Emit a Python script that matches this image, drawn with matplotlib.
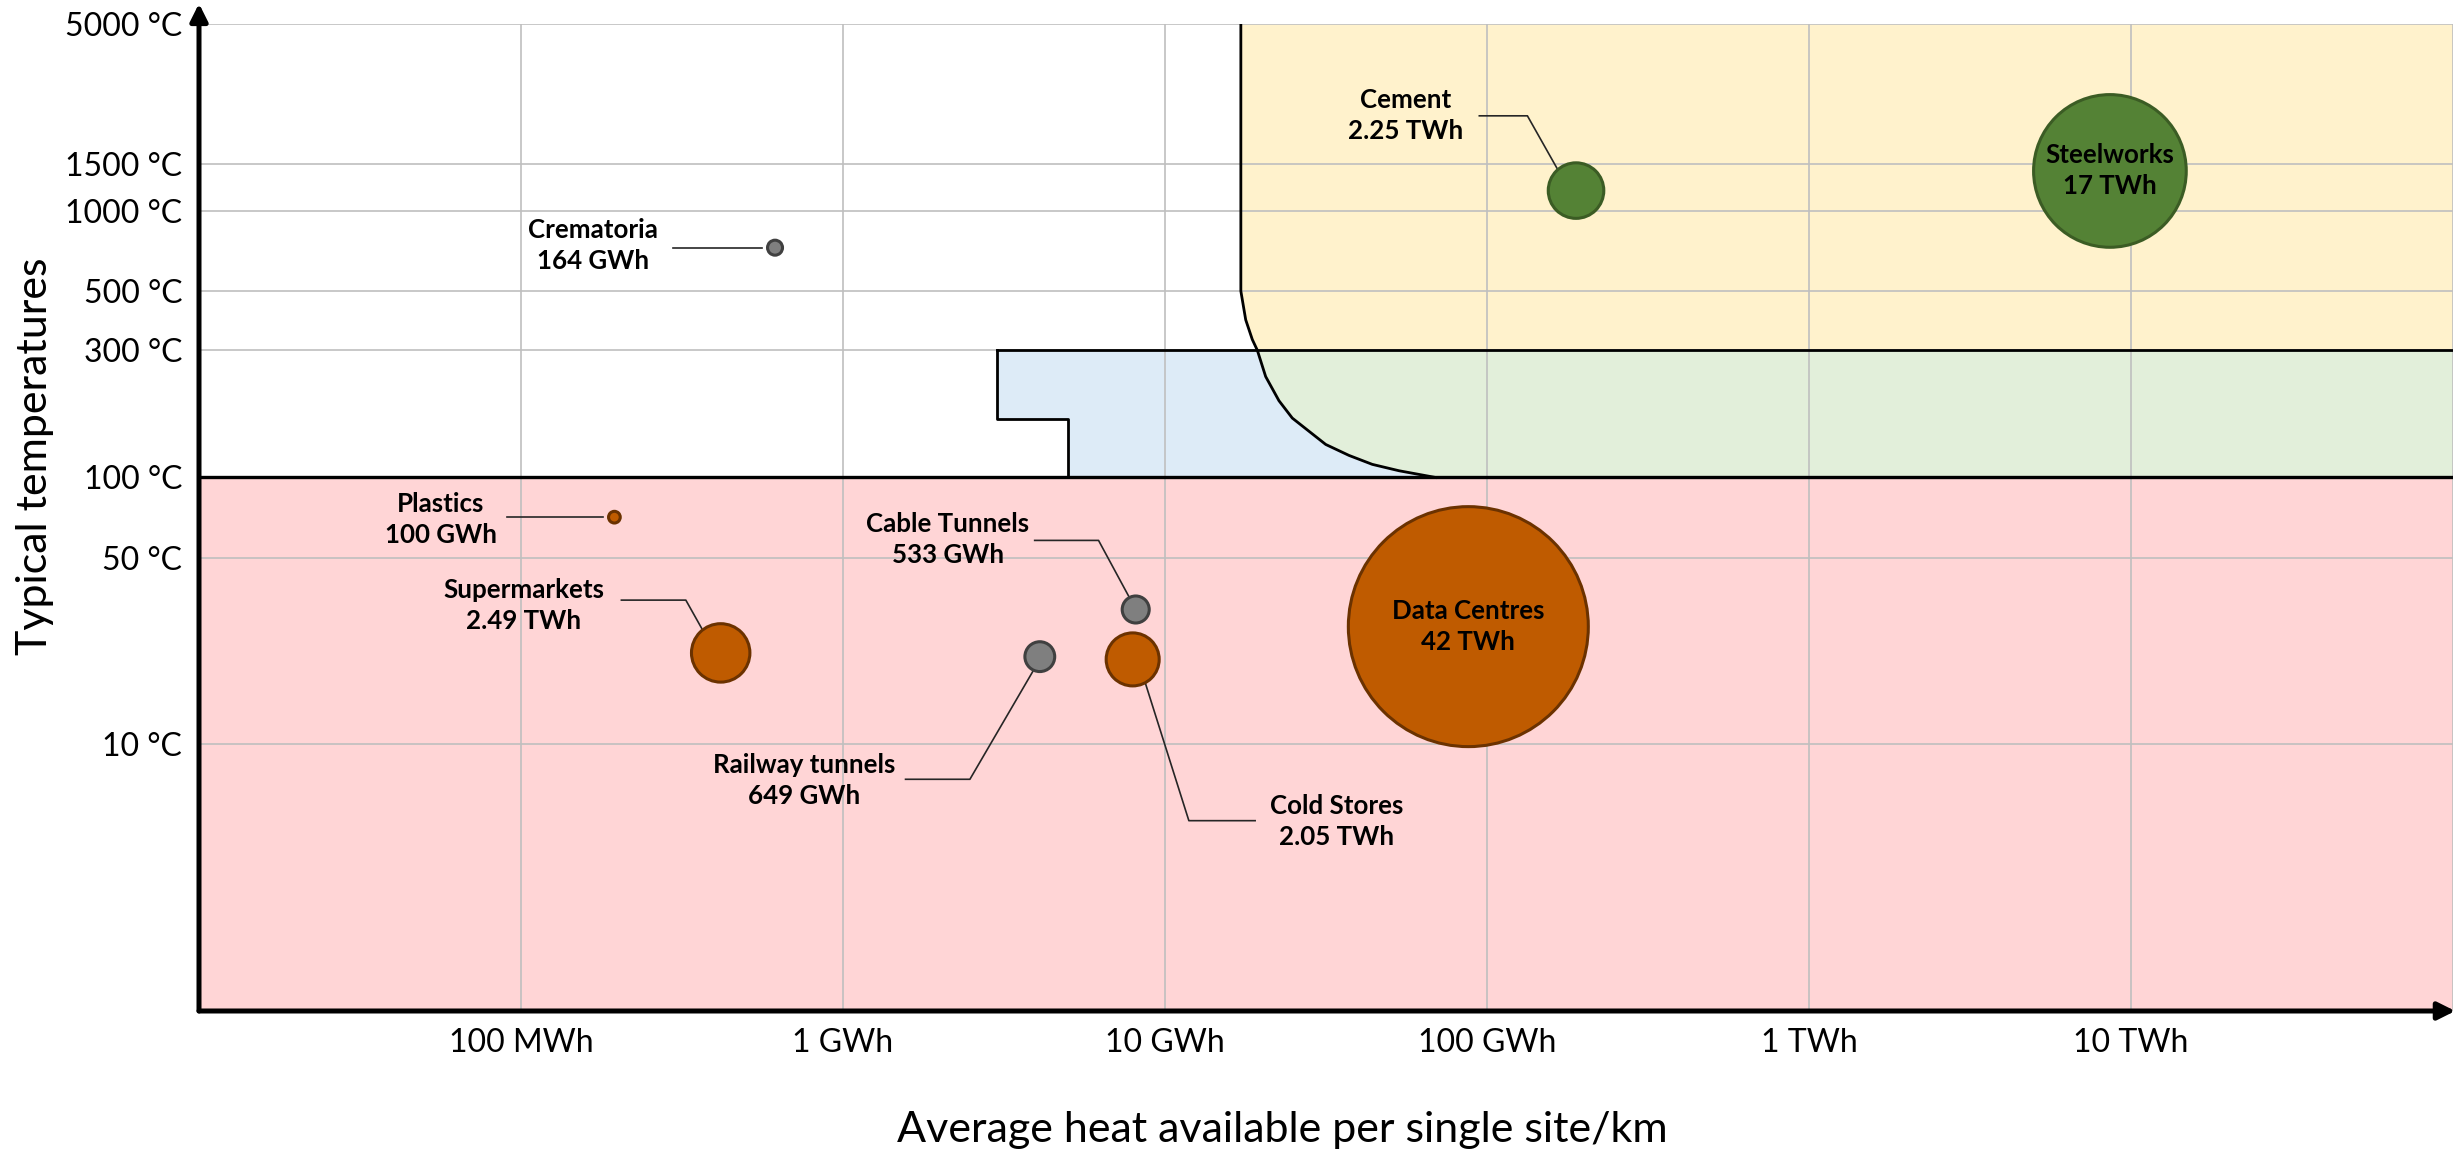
import matplotlib
matplotlib.use("Agg")
import matplotlib.pyplot as plt
from matplotlib.ticker import NullLocator

plt.rcParams['font.family'] = ['Lato', 'DejaVu Sans']

# --- data -------------------------------------------------------------
names = ["Crematoria", "Cement", "Steelworks", "Plastics", "Supermarkets",
         "Cable Tunnels", "Railway tunnels", "Cold Stores", "Data Centres"]
energy_labels = ["164 GWh", "2.25 TWh", "17 TWh", "100 GWh", "2.49 TWh",
                 "533 GWh", "649 GWh", "2.05 TWh", "42 TWh"]
energy_twh = [0.164, 2.25, 17, 0.1, 2.49, 0.533, 0.649, 2.05, 42]
heat_per_site_mwh = [615, 189000, 8.6e6, 195, 417, 8110, 4085, 7936, 87500]
temperature_c = [727, 1190, 1410, 71, 22, 32, 21.3, 20.8, 27.6]
group = ["tunnel", "high", "high", "low", "low", "tunnel", "tunnel", "low", "low"]

# zone boundaries (MWh, degC)
x_min, x_max = 10, 1e8
t_min, t_max = 1, 5000
t_low, t_mid, t_step = 100, 300, 165
blue_left, blue_step = 3000, 5000
yellow_left, t_curve_top = 17200, 500
curve_x = [17200, 17810, 18670, 19350, 20540, 22590, 24850, 28010, 31560,
           37270, 44030, 53300, 69300]
curve_t = [500, 390, 329, 300, 239, 194, 167, 149, 133, 121, 112, 106, 100]

x_ticks = [1e2, 1e3, 1e4, 1e5, 1e6, 1e7, 1e8]
x_ticklabels = ["100 MWh", "1 GWh", "10 GWh", "100 GWh", "1 TWh", "10 TWh", ""]
y_ticks = [10, 50, 100, 300, 500, 1000, 1500, 5000]
y_ticklabels = ["10 °C", "50 °C", "100 °C", "300 °C", "500 °C", "1000 °C",
                "1500 °C", "5000 °C"]

# label placement: text centre and leader path (MWh, degC)
label_layout = {
    "Crematoria": ((167, 743), [(296, 727), (560, 727)]),
    "Plastics": ((56.3, 69.7), [(90.3, 71), (180, 71)]),
    "Supermarkets": ((102, 33.2), [(205, 34.7), (325, 34.7), (364, 27.2)]),
    "Cable Tunnels": ((2119, 58.4), [(3938, 58.1), (6217, 58.1), (7731, 35.7)]),
    "Railway tunnels": ((758, 7.3), [(1564, 7.39), (2478, 7.39), (3908, 18.97)]),
    "Cold Stores": ((34210, 5.12), [(19050, 5.17), (11860, 5.17), (8693, 16.92)]),
    "Cement": ((55840, 2273), [(94660, 2269), (133500, 2269), (165100, 1440)]),
}

fill_color = {"low": "#BF5B00", "high": "#548235", "tunnel": "#7F7F7F"}
edge_color = {"low": "#6B3200", "high": "#3B5C24", "tunnel": "#404040"}

# --- figure -----------------------------------------------------------
fig = plt.figure(figsize=(12.29, 5.76), dpi=200)
ax = fig.add_axes([0.08096, 0.1224, 0.91701, 0.85651])
ax.set_xscale('log')
ax.set_yscale('log')
ax.set_xlim(x_min, x_max)
ax.set_ylim(t_min, t_max)

# zones
ax.fill_between([x_min, x_max], t_min, t_low, color="#FFD5D6", lw=0, zorder=0.2)
upper = [(cx, ct) for cx, ct in zip(curve_x, curve_t) if ct >= t_mid]
lower = [(cx, ct) for cx, ct in zip(curve_x, curve_t) if ct <= t_mid]
yellow = [(yellow_left, t_max)] + upper + [(x_max, t_mid), (x_max, t_max)]
green = lower + [(x_max, t_low), (x_max, t_mid)]
blue = [(blue_left, t_mid)] + lower + [(blue_step, t_low), (blue_step, t_step),
                                        (blue_left, t_step)]
for poly, col in [(yellow, "#FFF2CC"), (green, "#E2EFDA"), (blue, "#DDEBF7")]:
    ax.fill([p[0] for p in poly], [p[1] for p in poly], color=col, lw=0, zorder=0.2)

# zone outlines
ax.plot([yellow_left] + curve_x, [t_max] + curve_t, color="black", lw=1.0, zorder=2)
ax.plot([blue_left, x_max], [t_mid, t_mid], color="black", lw=1.0, zorder=2)
ax.plot([x_min, x_max], [t_low, t_low], color="black", lw=1.2, zorder=2)
ax.plot([blue_left, blue_left, blue_step, blue_step],
        [t_mid, t_step, t_step, t_low], color="black", lw=1.0, zorder=2)

# grid & ticks
ax.set_axisbelow(True)
ax.set_xticks(x_ticks)
ax.set_xticklabels(x_ticklabels)
ax.set_yticks(y_ticks)
ax.set_yticklabels(y_ticklabels)
ax.xaxis.set_minor_locator(NullLocator())
ax.yaxis.set_minor_locator(NullLocator())
ax.grid(True, color="#BFBFBF", lw=0.6)
ax.tick_params(axis='both', length=0, labelsize=11.5)
ax.tick_params(axis='x', pad=6)
ax.tick_params(axis='y', pad=6)
for s in ax.spines.values():
    s.set_visible(False)

# axes with arrows
ax.annotate('', xy=(0, 1.021), xytext=(0, 0), xycoords='axes fraction',
            arrowprops=dict(arrowstyle='-|>', lw=1.8, color='black',
                            mutation_scale=13, shrinkA=0, shrinkB=0),
            annotation_clip=False, zorder=5)
ax.annotate('', xy=(1.001, 0), xytext=(0, 0), xycoords='axes fraction',
            arrowprops=dict(arrowstyle='-|>', lw=1.8, color='black',
                            mutation_scale=13, shrinkA=0, shrinkB=0),
            annotation_clip=False, zorder=5)

# bubbles (area proportional to total heat)
sizes = [e * 177.7 for e in energy_twh]
ax.scatter(heat_per_site_mwh, temperature_c, s=sizes,
           c=[fill_color[g] for g in group],
           edgecolors=[edge_color[g] for g in group],
           linewidths=1.1, zorder=3)

# labels
for name, lab, x, t in zip(names, energy_labels, heat_per_site_mwh, temperature_c):
    txt = f"{name}\n{lab}"
    if name in label_layout:
        (tx, ty), path = label_layout[name]
        ax.text(tx, ty, txt, ha='center', va='center', fontsize=9.3,
                fontweight='bold', linespacing=1.35, zorder=4)
        ax.plot([p[0] for p in path], [p[1] for p in path],
                color="#262626", lw=0.6, zorder=2.5)
    else:
        ax.text(x, t, txt, ha='center', va='center', fontsize=9.3,
                fontweight='bold', linespacing=1.35, zorder=4)

fig.text(0.01424, 0.6036, "Typical temperatures", rotation=90,
         ha='center', va='center', fontsize=15.5)
fig.text(0.5216, 0.019, "Average heat available per single site/km",
         ha='center', va='center', fontsize=15.5)

fig.savefig("out.png", dpi=200)
